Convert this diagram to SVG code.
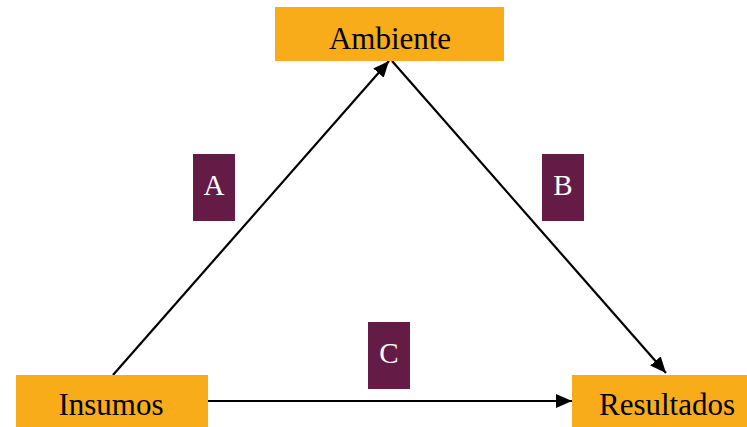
<svg xmlns="http://www.w3.org/2000/svg" width="747" height="427" viewBox="0 0 747 427">
<style>
.box{fill:#F9AC1A;}
.lab{fill:#641C46;}
.t{font-family:'Liberation Serif','Times New Roman',serif;font-size:31px;fill:#000;text-anchor:middle;}
.lt{font-family:'Liberation Serif','Times New Roman',serif;font-size:29px;fill:#fff;text-anchor:middle;}
.c{stroke:#000;stroke-width:2.2;fill:none;}
</style>
<defs>
<marker id="ah" viewBox="0 0 16 14" refX="16" refY="7" markerWidth="16" markerHeight="14" markerUnits="userSpaceOnUse" orient="auto">
<path d="M0,0 L16,7 L0,14 Z" fill="#000"/>
</marker>
</defs>
<rect width="747" height="427" fill="#fff"/>
<g id="connectors">
<line class="c" x1="113" y1="375" x2="389" y2="61" marker-end="url(#ah)"/>
<line class="c" x1="392" y1="61" x2="666" y2="373" marker-end="url(#ah)"/>
<line class="c" x1="208" y1="401" x2="572" y2="401" marker-end="url(#ah)"/>
</g>
<g id="ambiente">
<rect class="box" x="275" y="7" width="229" height="54"/>
<text class="t" x="390" y="49">Ambiente</text>
</g>
<g id="insumos">
<rect class="box" x="16" y="375" width="192" height="52"/>
<text class="t" x="111" y="415">Insumos</text>
</g>
<g id="resultados">
<rect class="box" x="572" y="375" width="175" height="52"/>
<text class="t" x="667" y="415">Resultados</text>
</g>
<g id="labelA">
<rect class="lab" x="193" y="154" width="42" height="67"/>
<text class="lt" x="214" y="195">A</text>
</g>
<g id="labelB">
<rect class="lab" x="542" y="154" width="42" height="67"/>
<text class="lt" x="563" y="195">B</text>
</g>
<g id="labelC">
<rect class="lab" x="368" y="322" width="42" height="67"/>
<text class="lt" x="389" y="363">C</text>
</g>
</svg>
